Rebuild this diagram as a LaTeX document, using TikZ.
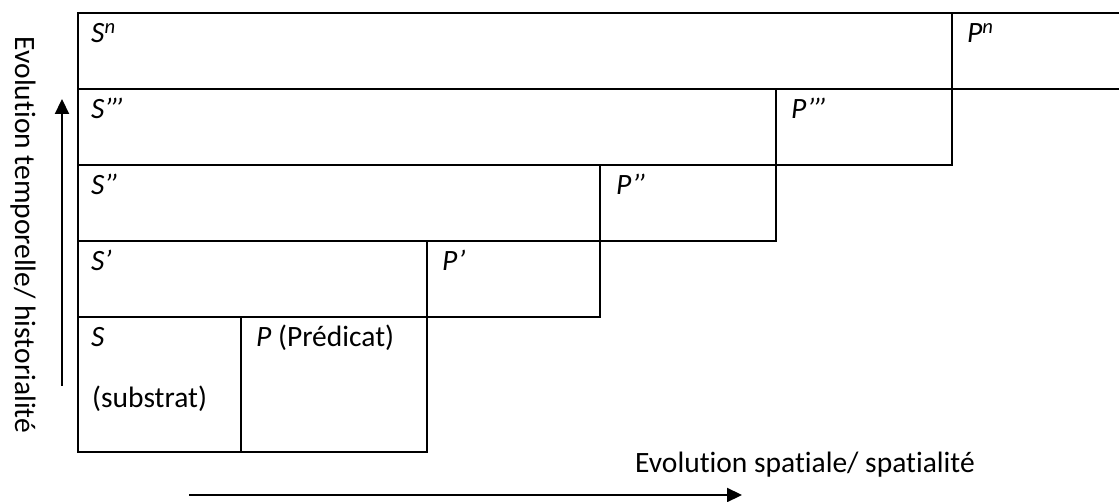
\documentclass[tikz,border=0pt]{standalone}
\usepackage{fontspec}
\setmainfont{Carlito}[Ligatures=NoCommon]
\usetikzlibrary{arrows.meta}
\newcommand\myq{’\kern-2pt}
\begin{document}
\begin{tikzpicture}[x=1pt,y=-1pt,
  cell/.style={line width=1.6pt,line cap=rect},
  lbl/.style={anchor=base west,inner sep=0pt,font=\fontsize{29.5}{35}\selectfont},
  axis/.style={line width=2.2pt,-{Triangle[length=15pt,width=14pt]}}]
\useasboundingbox (0,0) rectangle (1119,502);
% row n
\draw[cell] (78,13) -- (1125,13);
\draw[cell] (78,89) -- (1125,89);
\draw[cell] (78,13) -- (78,89);
\draw[cell] (952,13) -- (952,89);
% row '''
\draw[cell] (78,89) rectangle (952,165);
\draw[cell] (776,89) -- (776,165);
% row ''
\draw[cell] (78,165) rectangle (776,241);
\draw[cell] (600,165) -- (600,241);
% row '
\draw[cell] (78,241) rectangle (600,317);
\draw[cell] (427,241) -- (427,317);
% row S
\draw[cell] (78,317) rectangle (427,452);
\draw[cell] (241,317) -- (241,452);
% labels
\node[lbl] (sn) at (91,43) {\textit{S}\textsuperscript{\itshape n}};
\node[lbl] (pn) at (967,43) {\textit{P}\textsuperscript{\itshape n}};
\node[lbl] (s3) at (91,119) {\textit{S\myq\myq’}};
\node[lbl] (p3) at (791,119) {\textit{P\myq\myq’}};
\node[lbl] (s2) at (91,195) {\textit{S\myq’}};
\node[lbl] (p2) at (616,195) {\textit{P\myq’}};
\node[lbl] (s1) at (91,271) {\textit{S’}};
\node[lbl] (p1) at (442,271) {\textit{P’}};
\node[lbl] (s0) at (91,347) {\textit{S}};
\node[lbl] (sub) at (92,407) {(substrat)};
\node[lbl] (p0) at (256,347) {\textit{P} (Prédicat)};
% axes
\coordinate (h0) at (189,495);
\coordinate (h1) at (742,495);
\draw[axis] (h0) -- (h1);
\node[lbl] (hx) at (635,472) {Evolution spatiale/ spatialité};
\coordinate (v0) at (62,386);
\coordinate (v1) at (62,99);
\draw[axis] (v0) -- (v1);
\node[inner sep=0pt,rotate=-90,font=\fontsize{29.5}{35}\selectfont] (vx) at (23,235) {Evolution temporelle/ historialité};
\end{tikzpicture}
\end{document}
